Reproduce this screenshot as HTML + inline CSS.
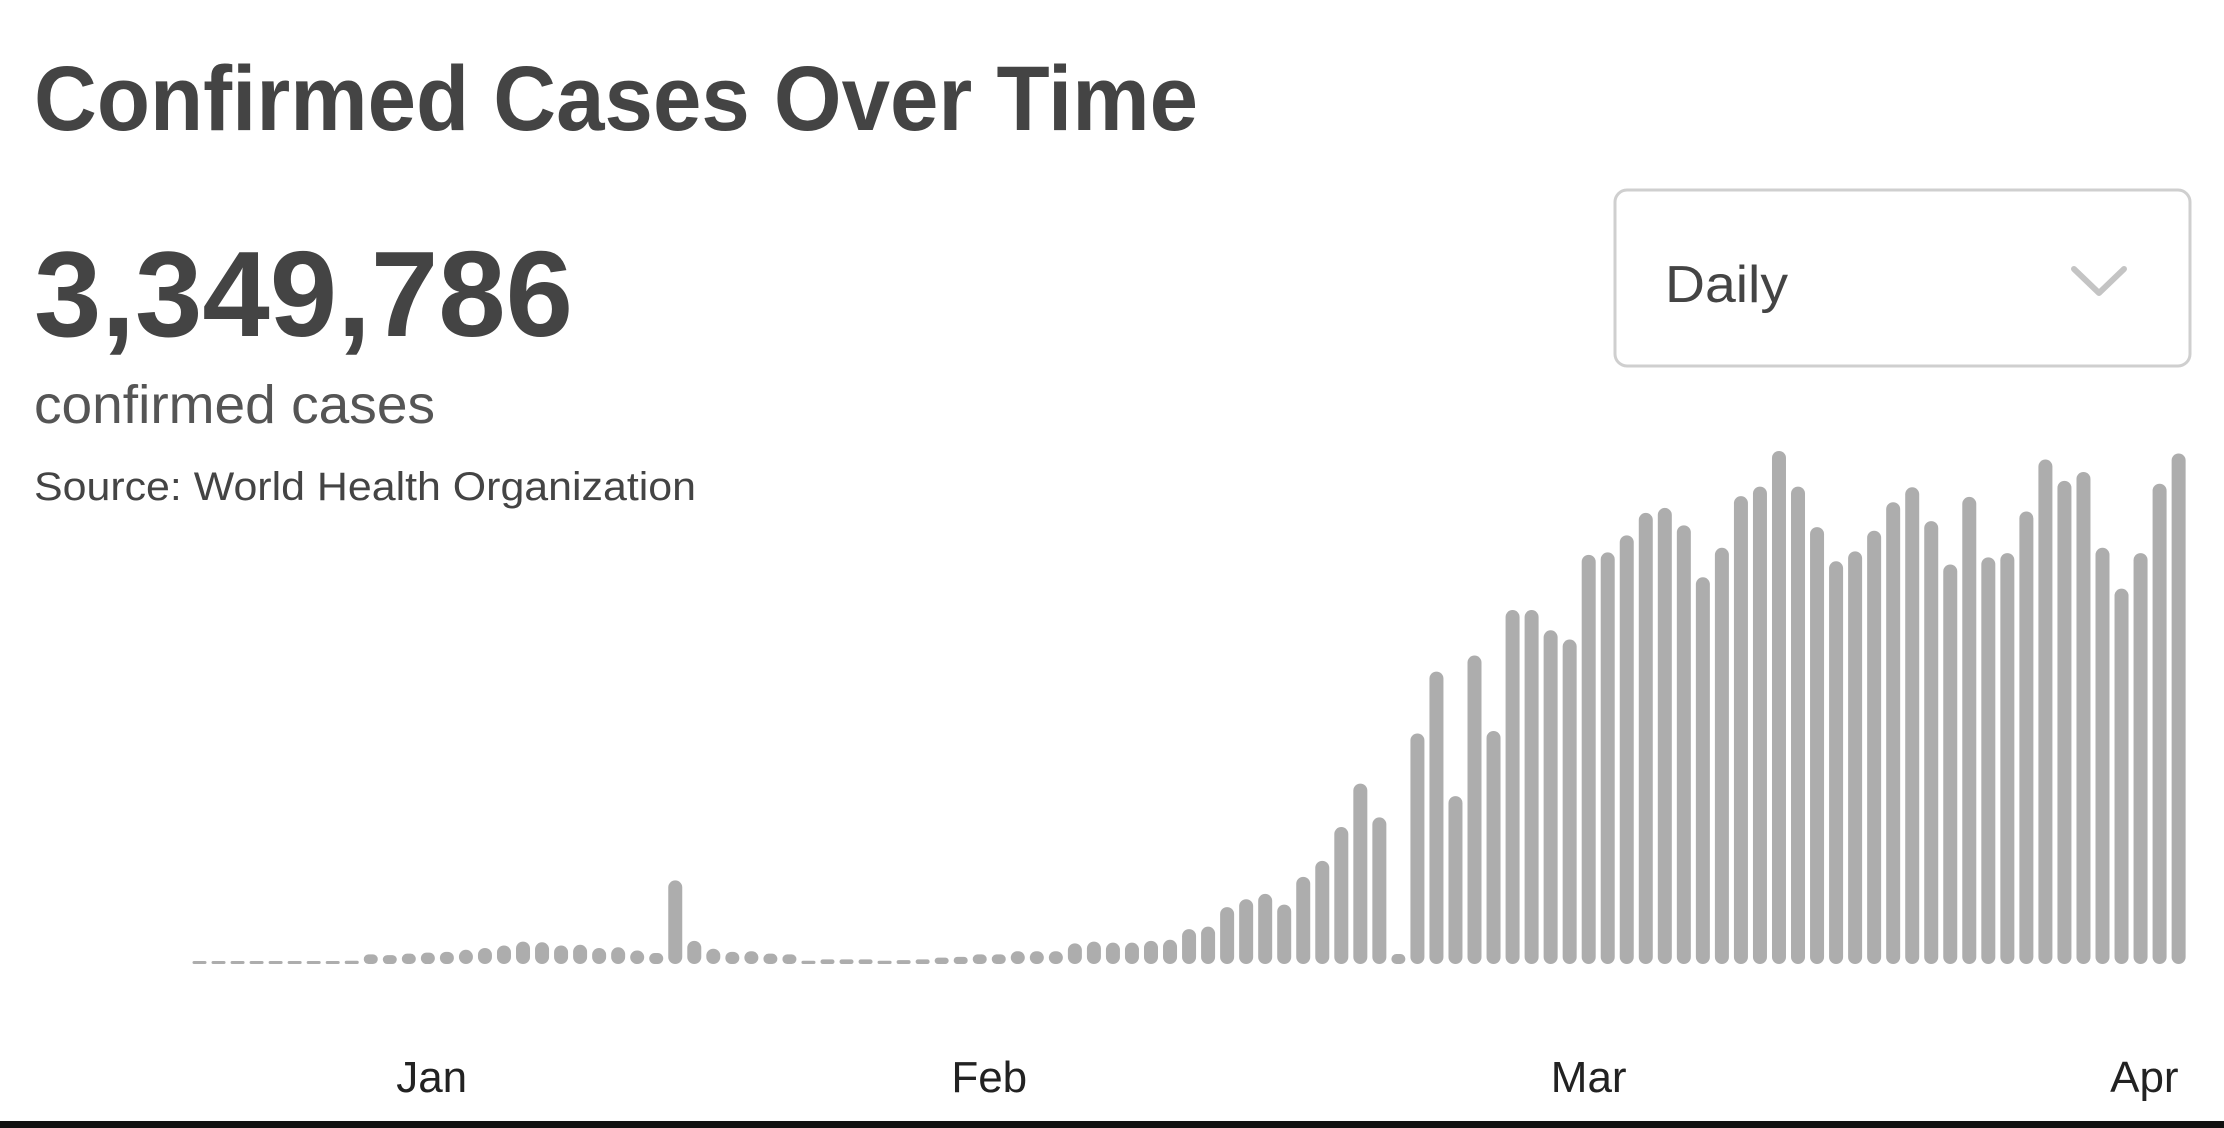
<!DOCTYPE html>
<html><head><meta charset="utf-8"><style>
html,body{margin:0;padding:0;background:#fff;}
svg{display:block;font-family:"Liberation Sans",sans-serif;}
</style></head><body>
<svg id="chart" width="2224" height="1128" viewBox="0 0 2224 1128" xmlns="http://www.w3.org/2000/svg">
<rect width="2224" height="1128" fill="#fff"/>
<text x="34" y="130" font-size="92" font-weight="bold" fill="#444" textLength="1164" lengthAdjust="spacingAndGlyphs">Confirmed Cases Over Time</text>
<text x="34" y="336" font-size="122" font-weight="bold" fill="#444" textLength="539" lengthAdjust="spacingAndGlyphs">3,349,786</text>
<text x="34" y="423" font-size="54" fill="#555" textLength="401" lengthAdjust="spacingAndGlyphs">confirmed cases</text>
<text x="34" y="500" font-size="40" fill="#444" textLength="662" lengthAdjust="spacingAndGlyphs">Source:  World Health Organization</text>
<g>
<rect x="1615" y="190" width="575" height="176" rx="12" fill="#fff" stroke="#cfcfcf" stroke-width="3"/>
<text x="1665" y="302" font-size="52" fill="#444" textLength="123" lengthAdjust="spacingAndGlyphs">Daily</text>
<path d="M2074 269 L2099 293 L2124 269" fill="none" stroke="#c4c4c4" stroke-width="6" stroke-linecap="round" stroke-linejoin="round"/>
</g>
<g id="bars"></g>
<g id="xaxis"></g>
<rect x="0" y="1121" width="2224" height="7" fill="#111"/>
</svg>
<script>
const dailyCases = [2,2,3,4,4,4,6,7,9,27,25,29,32,34,40,45,52,63,61,52,54,45,47,38,31,235,65,43,34,36,29,27,9,13,13,13,9,11,13,18,20,27,27,36,36,36,58,63,
60,60,65,68,98,105,160,182,197,167,245,290,385,507,412,28,648,822,472,867,655,995,995,938,912,1150,1157,1205,1268,1282,1233,1087,1170,1315,1342,1442,1342,1228,1132,1160,1218,1298,1340,1245,1123,1313,1143,1155,1272,1418,1358,1383,1170,1055,1155,1350,1435];
const monthLabels = ["Jan","Feb","Mar","Apr"];
const monthIndex = [12.2,41.5,73,102.2];
const yMax = 1442;

const NS = "http://www.w3.org/2000/svg";
const x0 = 199.5, step = 19.03, baseY = 964, plotH = 513, barW = 14;
function xScale(i){ return x0 + i*step; }
function yScale(v){ return v/yMax*plotH; }
const bars = document.getElementById('bars');
dailyCases.forEach((v,i)=>{
  const h = Math.max(yScale(v), 3);
  const r = document.createElementNS(NS,'rect');
  
  
  r.setAttribute('x', xScale(i)-barW/2);
  r.setAttribute('y', baseY-h);
  r.setAttribute('width', barW);
  r.setAttribute('height', h);
  r.setAttribute('rx', Math.min(barW/2, h/2));
  r.setAttribute('fill', '#adadad');
  bars.appendChild(r);
});
const xa = document.getElementById('xaxis');
monthLabels.forEach((m,k)=>{
  const t = document.createElementNS(NS,'text');
  
  
  t.setAttribute('x', xScale(monthIndex[k]));
  t.setAttribute('y', 1092);
  t.setAttribute('text-anchor', 'middle');
  t.setAttribute('font-size', '44');
  t.setAttribute('fill', '#222');
  t.textContent = m;
  xa.appendChild(t);
});
</script>
</body></html>
